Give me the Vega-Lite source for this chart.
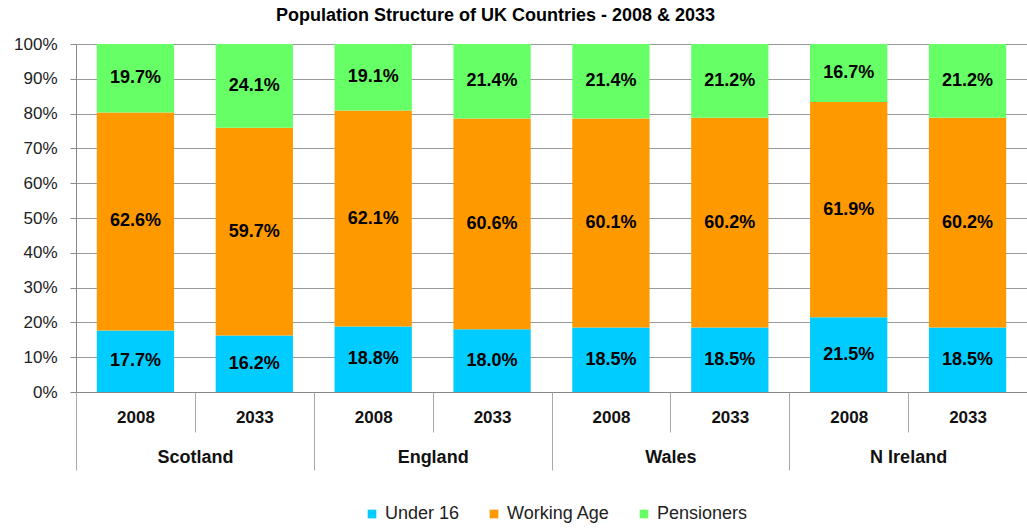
{
  "$schema": "https://vega.github.io/schema/vega-lite/v6.json",
  "width": 951,
  "height": 348,
  "autosize": "none",
  "padding": {"left": 76, "top": 44, "right": 0, "bottom": 138},
  "background": "white",
  "title": {"text": "Population Structure of UK Countries - 2008 & 2033", "fontSize": 18, "fontWeight": "bold", "font": "Liberation Sans", "color": "#000", "anchor": "middle", "dx": -56, "offset": 10},
  "config": {"font": "Liberation Sans", "view": {"stroke": null}},
  "data": {"values": [
    {"country": "Scotland", "year": "2008", "key": "Scotland|2008", "group": "Under 16", "order": 1, "pct": 0.177},
    {"country": "Scotland", "year": "2008", "key": "Scotland|2008", "group": "Working Age", "order": 2, "pct": 0.626},
    {"country": "Scotland", "year": "2008", "key": "Scotland|2008", "group": "Pensioners", "order": 3, "pct": 0.197},
    {"country": "Scotland", "year": "2033", "key": "Scotland|2033", "group": "Under 16", "order": 1, "pct": 0.162},
    {"country": "Scotland", "year": "2033", "key": "Scotland|2033", "group": "Working Age", "order": 2, "pct": 0.597},
    {"country": "Scotland", "year": "2033", "key": "Scotland|2033", "group": "Pensioners", "order": 3, "pct": 0.241},
    {"country": "England", "year": "2008", "key": "England|2008", "group": "Under 16", "order": 1, "pct": 0.188},
    {"country": "England", "year": "2008", "key": "England|2008", "group": "Working Age", "order": 2, "pct": 0.621},
    {"country": "England", "year": "2008", "key": "England|2008", "group": "Pensioners", "order": 3, "pct": 0.191},
    {"country": "England", "year": "2033", "key": "England|2033", "group": "Under 16", "order": 1, "pct": 0.180},
    {"country": "England", "year": "2033", "key": "England|2033", "group": "Working Age", "order": 2, "pct": 0.606},
    {"country": "England", "year": "2033", "key": "England|2033", "group": "Pensioners", "order": 3, "pct": 0.214},
    {"country": "Wales", "year": "2008", "key": "Wales|2008", "group": "Under 16", "order": 1, "pct": 0.185},
    {"country": "Wales", "year": "2008", "key": "Wales|2008", "group": "Working Age", "order": 2, "pct": 0.601},
    {"country": "Wales", "year": "2008", "key": "Wales|2008", "group": "Pensioners", "order": 3, "pct": 0.214},
    {"country": "Wales", "year": "2033", "key": "Wales|2033", "group": "Under 16", "order": 1, "pct": 0.185},
    {"country": "Wales", "year": "2033", "key": "Wales|2033", "group": "Working Age", "order": 2, "pct": 0.602},
    {"country": "Wales", "year": "2033", "key": "Wales|2033", "group": "Pensioners", "order": 3, "pct": 0.212},
    {"country": "N Ireland", "year": "2008", "key": "N Ireland|2008", "group": "Under 16", "order": 1, "pct": 0.215},
    {"country": "N Ireland", "year": "2008", "key": "N Ireland|2008", "group": "Working Age", "order": 2, "pct": 0.619},
    {"country": "N Ireland", "year": "2008", "key": "N Ireland|2008", "group": "Pensioners", "order": 3, "pct": 0.167},
    {"country": "N Ireland", "year": "2033", "key": "N Ireland|2033", "group": "Under 16", "order": 1, "pct": 0.185},
    {"country": "N Ireland", "year": "2033", "key": "N Ireland|2033", "group": "Working Age", "order": 2, "pct": 0.602},
    {"country": "N Ireland", "year": "2033", "key": "N Ireland|2033", "group": "Pensioners", "order": 3, "pct": 0.212}
  ]},
  "layer": [
    {
      "layer": [
        {
          "mark": {"type": "bar", "width": {"band": 0.65}},
          "encoding": {
            "x": {"field": "key", "type": "nominal", "sort": null,
              "scale": {"paddingInner": 0, "paddingOuter": 0},
              "axis": {"orient": "bottom", "title": null, "labelAngle": 0, "labelExpr": "split(datum.value, '|')[1]",
                "labelFontSize": 17, "labelFontWeight": "bold", "labelColor": "#111", "tickBand": "extent", "tickSize": 40,
                "labelPadding": -23, "domainColor": "#888", "tickColor": "#aaa", "grid": false}},
            "y": {"field": "pct", "type": "quantitative", "stack": "normalize",
              "scale": {"domain": [0, 1], "nice": false},
              "axis": {"title": null, "format": ".0%", "tickCount": 11, "labelOverlap": false,
                "labelFontSize": 17, "labelColor": "#222", "gridColor": "#999", "domainColor": "#888",
                "tickColor": "#888", "tickSize": 6, "labelPadding": 13}},
            "color": {"field": "group", "type": "nominal",
              "scale": {"domain": ["Under 16", "Working Age", "Pensioners"], "range": ["#00CCFF", "#FF9900", "#66FF66"]},
              "legend": {"title": null, "orient": "none", "direction": "horizontal", "legendX": 287, "legendY": 461,
                "labelFontSize": 18, "labelColor": "#222", "symbolType": "square", "symbolSize": 75, "symbolStrokeWidth": 0,
                "columnPadding": 25, "labelOffset": 4}},
            "order": {"field": "order", "type": "quantitative"}
          }
        },
        {
          "mark": {"type": "text", "fontWeight": "bold", "fontSize": 18, "font": "Liberation Sans", "color": "#000"},
          "encoding": {
            "x": {"field": "key", "type": "nominal", "sort": null},
            "y": {"field": "pct", "type": "quantitative", "stack": "normalize", "bandPosition": 0.5},
            "detail": {"field": "group", "type": "nominal"},
            "order": {"field": "order", "type": "quantitative"},
            "text": {"field": "pct", "type": "quantitative", "format": ".1%"}
          }
        }
      ]
    },
    {
      "mark": {"type": "rule", "strokeOpacity": 0},
      "encoding": {
        "x": {"field": "country", "type": "nominal", "sort": null,
          "scale": {"paddingInner": 0, "paddingOuter": 0},
          "axis": {"orient": "bottom", "title": null, "labelAngle": 0, "labelFontSize": 18, "labelFontWeight": "bold",
            "labelColor": "#111", "tickBand": "extent", "tickSize": 78, "labelPadding": -22, "domain": false,
            "tickColor": "#aaa", "grid": false}}
      }
    }
  ],
  "resolve": {"scale": {"x": "independent"}}
}
